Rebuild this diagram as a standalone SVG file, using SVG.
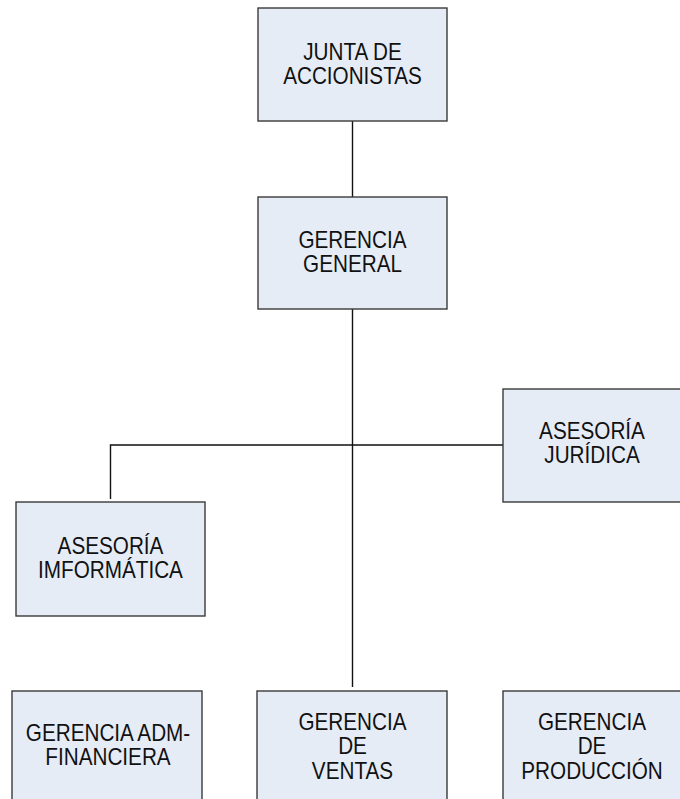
<svg xmlns="http://www.w3.org/2000/svg" width="680" height="799" viewBox="0 0 680 799">
<style>
.box{fill:#e6ecf6;stroke:#3a3a3a;stroke-width:1.4}
.lbl{font-family:"Liberation Sans",Arial,sans-serif;font-size:23px;fill:#111;text-anchor:middle}
.con{stroke:#111;stroke-width:1.4;fill:none}
</style>
<rect width="680" height="799" fill="#fff"/>
<g id="connectors">
<line class="con" x1="352.5" y1="121" x2="352.5" y2="197"/>
<line class="con" x1="352.5" y1="309" x2="352.5" y2="687"/>
<polyline class="con" points="110.5,499 110.5,445 503,445"/>
</g>
<g id="junta">
<rect class="box" x="258" y="8" width="189" height="113"/>
<g transform="translate(352.5 0) scale(0.9 1)">
<text class="lbl" x="0" y="60">JUNTA DE</text>
<text class="lbl" x="0" y="84">ACCIONISTAS</text>
</g>
</g>
<g id="gerencia-general">
<rect class="box" x="258" y="197" width="189" height="112"/>
<g transform="translate(352.5 0) scale(0.9 1)">
<text class="lbl" x="0" y="248">GERENCIA</text>
<text class="lbl" x="0" y="272">GENERAL</text>
</g>
</g>
<g id="asesoria-juridica">
<rect class="box" x="503" y="389" width="189" height="113"/>
<g transform="translate(592 0) scale(0.9 1)">
<text class="lbl" x="0" y="439">ASESORÍA</text>
<text class="lbl" x="0" y="463">JURÍDICA</text>
</g>
</g>
<g id="asesoria-informatica">
<rect class="box" x="16" y="502" width="189" height="114"/>
<g transform="translate(110.5 0) scale(0.9 1)">
<text class="lbl" x="0" y="554">ASESORÍA</text>
<text class="lbl" x="0" y="578">IMFORMÁTICA</text>
</g>
</g>
<g id="gerencia-adm">
<rect class="box" x="12" y="691" width="190" height="113"/>
<g transform="translate(108 0) scale(0.9 1)">
<text class="lbl" x="0" y="741">GERENCIA ADM-</text>
<text class="lbl" x="0" y="765">FINANCIERA</text>
</g>
</g>
<g id="gerencia-ventas">
<rect class="box" x="257" y="691" width="190" height="113"/>
<g transform="translate(352.5 0) scale(0.9 1)">
<text class="lbl" x="0" y="730">GERENCIA</text>
<text class="lbl" x="0" y="754">DE</text>
<text class="lbl" x="0" y="779">VENTAS</text>
</g>
</g>
<g id="gerencia-produccion">
<rect class="box" x="503" y="691" width="189" height="113"/>
<g transform="translate(592 0) scale(0.9 1)">
<text class="lbl" x="0" y="730">GERENCIA</text>
<text class="lbl" x="0" y="754">DE</text>
<text class="lbl" x="0" y="779">PRODUCCIÓN</text>
</g>
</g>
</svg>
